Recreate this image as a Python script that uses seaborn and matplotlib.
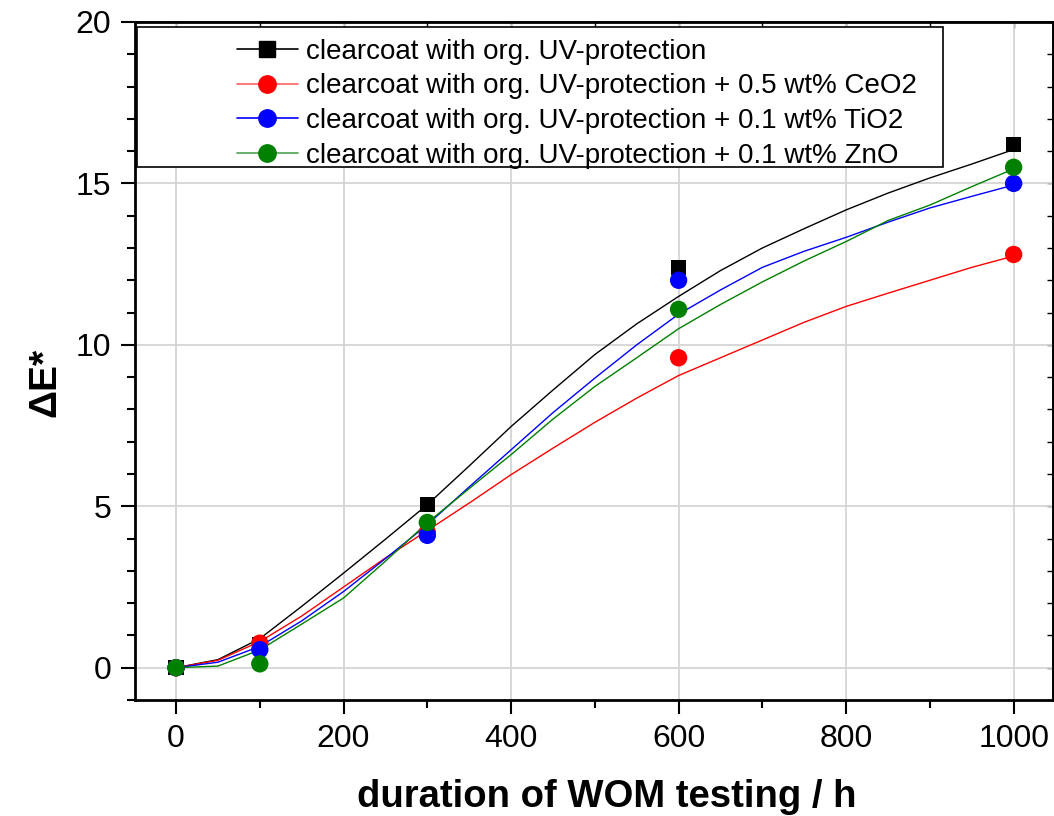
import numpy as np
import pandas as pd
import matplotlib
matplotlib.use("Agg")
import matplotlib.pyplot as plt
from matplotlib.lines import Line2D
from matplotlib.patches import Rectangle
from matplotlib.ticker import MultipleLocator
import seaborn as sns

# ---------------- data ----------------
series_names = [
    "clearcoat with org. UV-protection",
    "clearcoat with org. UV-protection + 0.5 wt% CeO2",
    "clearcoat with org. UV-protection + 0.1 wt% TiO2",
    "clearcoat with org. UV-protection + 0.1 wt% ZnO",
]
hours = [0, 100, 300, 600, 1000]
de_ref = [0.0, 0.7, 5.05, 12.4, 16.2]
de_ceo2 = [0.0, 0.76, 4.2, 9.6, 12.8]
de_tio2 = [0.0, 0.56, 4.1, 12.0, 15.0]
de_zno = [0.0, 0.12, 4.5, 11.1, 15.5]

# fitted curves
fit_hours = [0, 50, 100, 150, 200, 250, 300, 350, 400, 450, 500, 550, 600,
             650, 700, 750, 800, 850, 900, 950, 1000]
fit_ref = [0, 0.25, 0.9, 1.9, 2.93, 3.98, 5.05, 6.25, 7.47, 8.6, 9.7, 10.65, 11.5,
           12.3, 13.0, 13.6, 14.18, 14.7, 15.17, 15.6, 16.05]
fit_ceo2 = [0, 0.23, 0.81, 1.6, 2.5, 3.4, 4.25, 5.1, 5.98, 6.8, 7.6, 8.35, 9.05,
            9.6, 10.15, 10.7, 11.19, 11.6, 12.0, 12.4, 12.75]
fit_tio2 = [0, 0.17, 0.66, 1.45, 2.36, 3.38, 4.43, 5.6, 6.75, 7.9, 8.97, 10.0, 10.95,
            11.7, 12.4, 12.9, 13.33, 13.8, 14.24, 14.6, 14.95]
fit_zno = [0, 0.05, 0.55, 1.35, 2.16, 3.3, 4.49, 5.55, 6.6, 7.7, 8.71, 9.6, 10.5,
           11.25, 11.95, 12.6, 13.2, 13.85, 14.33, 14.9, 15.45]

colors = ["#000000", "#ff0000", "#0000ff", "#008000"]
legend_line_colors = ["#000000", "#ff6060", "#0000ff", "#50a050"]
markers = ["s", "o", "o", "o"]
msizes = [11, 12.5, 12.5, 12.5]

points = [de_ref, de_ceo2, de_tio2, de_zno]
fits = [fit_ref, fit_ceo2, fit_tio2, fit_zno]

pts_df = pd.concat([pd.DataFrame({"h": hours, "de": v, "s": n}) for n, v in zip(series_names, points)])
fit_df = pd.concat([pd.DataFrame({"h": fit_hours, "de": v, "s": n}) for n, v in zip(series_names, fits)])

# ---------------- figure ----------------
sns.set_theme(style="white")
plt.rcParams["font.family"] = ["Liberation Sans", "DejaVu Sans"]
plt.rcParams["text.color"] = "black"
plt.rcParams["axes.labelcolor"] = "black"
plt.rcParams["xtick.color"] = "black"
plt.rcParams["ytick.color"] = "black"

W, H = 1054, 816
fig = plt.figure(figsize=(W / 100, H / 100), dpi=100)
ax = fig.add_axes([135 / W, 1 - 700 / H, (1053 - 135) / W, (700 - 22) / H])

palette = dict(zip(series_names, colors))
sns.lineplot(data=fit_df, x="h", y="de", hue="s", palette=palette, sort=False,
             estimator=None, lw=1.0, ax=ax, legend=False, zorder=2)
for n, c, m, ms in zip(series_names, colors, markers, msizes):
    sub = pts_df[pts_df["s"] == n]
    sns.scatterplot(x=sub["h"], y=sub["de"], color=c, marker=m, s=ms ** 2,
                    edgecolor="none", ax=ax, legend=False, zorder=3)

ax.set_xlim(-49, 1047)
ax.set_ylim(-1, 20)
ax.xaxis.set_major_locator(MultipleLocator(200))
ax.xaxis.set_minor_locator(MultipleLocator(100))
ax.yaxis.set_major_locator(MultipleLocator(5))
ax.yaxis.set_minor_locator(MultipleLocator(1))
ax.grid(True, which="major", color="#d4d4d4", lw=1.3)
ax.set_axisbelow(True)

for sp in ax.spines.values():
    sp.set_color("black")
    sp.set_linewidth(2)
    sp.set_visible(True)

ax.tick_params(which="major", direction="out", length=10, width=1.5, color="black",
               labelcolor="black", labelsize=23, pad=7, bottom=True, left=True,
               top=False, right=False)
ax.tick_params(which="minor", direction="out", length=6, width=1.5, color="black",
               bottom=True, left=True, top=False, right=False)

top = ax.secondary_xaxis("top")
top.xaxis.set_major_locator(MultipleLocator(200))
top.xaxis.set_minor_locator(MultipleLocator(100))
top.tick_params(which="both", direction="in", length=4, width=1, labeltop=False)
right = ax.secondary_yaxis("right")
right.yaxis.set_major_locator(MultipleLocator(5))
right.yaxis.set_minor_locator(MultipleLocator(1))
right.tick_params(which="both", direction="in", length=4, width=1, labelright=False)

ax.set_xlabel("duration of WOM testing / h", fontsize=27.5, fontweight="bold",
              color="black", va="bottom")
ax.xaxis.set_label_coords(0.514, (700 - 815) / 678)
ax.set_ylabel("ΔE*", fontsize=28, fontweight="bold", color="black")
ax.yaxis.set_label_coords(-0.078, 0.469)

# legend
handles = [Line2D([0], [0], color=lc, lw=1.2, marker=m, markersize=ms, markerfacecolor=c,
                  markeredgecolor=c)
           for lc, c, m, ms in zip(legend_line_colors, colors, markers, msizes)]
frame = Rectangle((137 / W, 1 - 167 / H), (943 - 137) / W, (167 - 27) / H,
                  transform=fig.transFigure, facecolor="white", edgecolor="black",
                  lw=1.2, zorder=4, clip_on=False)
ax.add_patch(frame)
leg = ax.legend(handles, series_names, loc="upper left",
                bbox_to_anchor=(220 / W, 1 - 22 / H), bbox_transform=fig.transFigure,
                frameon=False, fontsize=20, handlelength=2.2, handletextpad=0.3,
                labelspacing=0.31, borderpad=0.1)
leg.set_zorder(10)
for t in leg.get_texts():
    t.set_color("black")

fig.savefig("out.png", dpi=100)
